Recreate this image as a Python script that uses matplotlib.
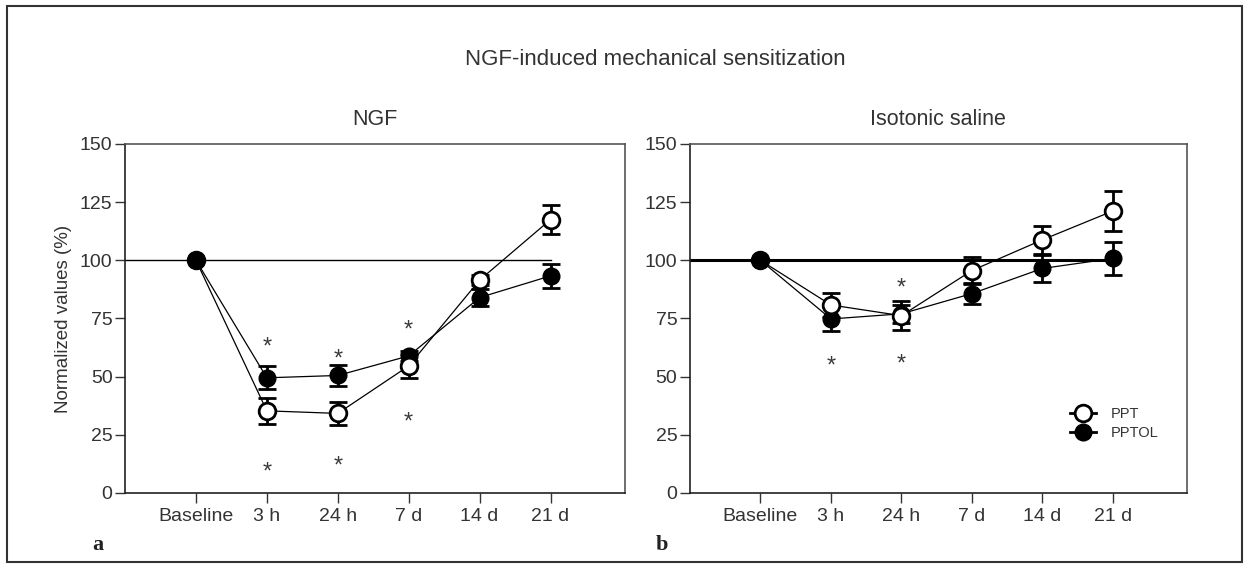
"""NGF-induced mechanical sensitization: PPT and PPTOL over time."""

import matplotlib
matplotlib.use("Agg")
import matplotlib.pyplot as plt
from matplotlib.lines import Line2D
from matplotlib.patches import Rectangle

plt.rcParams["font.family"] = ["Liberation Sans", "DejaVu Sans"]

TEXT_COLOR = "#333333"

time_labels = ["Baseline", "3 h", "24 h", "7 d", "14 d", "21 d"]

# panel a: NGF
ngf_ppt = [100, 35.3, 34.2, 54.6, 91.5, 117.5]
ngf_ppt_err = [0, 5.7, 5.0, 5.2, 2.0, 6.4]
ngf_pptol = [100, 49.5, 50.5, 58.9, 84.0, 93.3]
ngf_pptol_err = [0, 5.0, 4.6, 2.0, 3.6, 5.2]
ngf_star_x = [1, 1, 2, 2, 3, 3]
ngf_star_y = [65.7, 12.0, 60.7, 14.5, 73.2, 33.5]

# panel b: isotonic saline
sal_ppt = [100, 80.8, 76.2, 95.6, 108.8, 121.2]
sal_ppt_err = [0, 5.3, 6.2, 5.7, 5.9, 8.6]
sal_pptol = [100, 74.8, 77.0, 85.7, 96.5, 100.8]
sal_pptol_err = [0, 5.2, 4.0, 4.6, 5.8, 7.0]
sal_star_x = [1, 2, 2]
sal_star_y = [57.6, 91.0, 58.3]

y_ticks = [0, 25, 50, 75, 100, 125, 150]


def draw_panel(ax, ppt, ppt_err, pptol, pptol_err, star_x, star_y, title, ref_lw):
    x = list(range(len(time_labels)))
    ax.plot([-1, x[-1]], [100, 100], color="black", lw=ref_lw, zorder=1)

    err_kw = dict(fmt="none", ecolor="black", elinewidth=2.0, capsize=6.5, capthick=2.0, zorder=2)
    ax.errorbar(x, pptol, yerr=pptol_err, **err_kw)
    ax.errorbar(x, ppt, yerr=ppt_err, **err_kw)

    ax.plot(x, pptol, "-o", color="black", lw=0.9, ms=12, mfc="black", mec="black", zorder=3)
    ax.plot(x, ppt, "-o", color="black", lw=0.9, ms=12, mfc="white", mec="black", mew=2.0, zorder=4)
    ax.plot(x[0], pptol[0], "o", ms=12, mfc="black", mec="black", zorder=5)

    fs = 17
    for sx, sy in zip(star_x, star_y):
        ax.annotate("*", (sx, sy), xytext=(0, -0.58 * fs), textcoords="offset points",
                    ha="center", va="baseline", fontsize=fs, color="#3a3a3a")

    ax.set_xlim(-1, 6.05)
    ax.set_ylim(0, 150)
    ax.set_xticks(x)
    ax.set_xticklabels(time_labels)
    ax.set_yticks(y_ticks)
    ax.tick_params(axis="both", direction="out", length=7, width=1.0, colors="#333333",
                   labelsize=14, labelcolor=TEXT_COLOR)
    ax.tick_params(axis="y", pad=2)
    ax.tick_params(axis="x", pad=4)
    for side in ["left", "bottom"]:
        ax.spines[side].set_color("#222222")
        ax.spines[side].set_linewidth(1.2)
    for side in ["top", "right"]:
        ax.spines[side].set_color("#555555")
        ax.spines[side].set_linewidth(1.2)
    ax.set_title(title, fontsize=15.5, color=TEXT_COLOR, pad=14)


fig = plt.figure(figsize=(12.49, 5.69), dpi=100)
ax_a = fig.add_axes([0.1001, 0.1336, 0.4003, 0.6134])
ax_b = fig.add_axes([0.5524, 0.1336, 0.3979, 0.6134])

draw_panel(ax_a, ngf_ppt, ngf_ppt_err, ngf_pptol, ngf_pptol_err, ngf_star_x, ngf_star_y, "NGF", 1.0)
draw_panel(ax_b, sal_ppt, sal_ppt_err, sal_pptol, sal_pptol_err, sal_star_x, sal_star_y,
           "Isotonic saline", 2.2)

ax_a.set_ylabel("Normalized values (%)", fontsize=13.5, color=TEXT_COLOR, labelpad=6)

handles = [
    Line2D([], [], color="black", lw=2.0, marker="o", ms=12, mfc="white", mec="black", mew=2.0),
    Line2D([], [], color="black", lw=2.0, marker="o", ms=12, mfc="black", mec="black"),
]
ax_b.legend(handles, ["PPT", "PPTOL"], loc="center left", bbox_to_anchor=(0.765, 0.198),
            frameon=False, fontsize=10.5, handlelength=1.8, handletextpad=1.0,
            labelspacing=0.35, borderpad=0, borderaxespad=0, labelcolor=TEXT_COLOR)

fig.text(0.525, 0.895, "NGF-induced mechanical sensitization", ha="center", va="center",
         fontsize=16, color=TEXT_COLOR)
fig.text(0.078, 0.042, "a", ha="center", va="center", fontsize=16, fontweight="bold",
         family="Liberation Serif", color="#222222")
fig.text(0.53, 0.042, "b", ha="center", va="center", fontsize=16, fontweight="bold",
         family="Liberation Serif", color="#222222")

fig.patches.append(Rectangle((7 / 1249, 7 / 569), 1235 / 1249, 556 / 569, transform=fig.transFigure,
                             fill=False, edgecolor="#333333", lw=1.5))

fig.savefig("out.png", dpi=100)
